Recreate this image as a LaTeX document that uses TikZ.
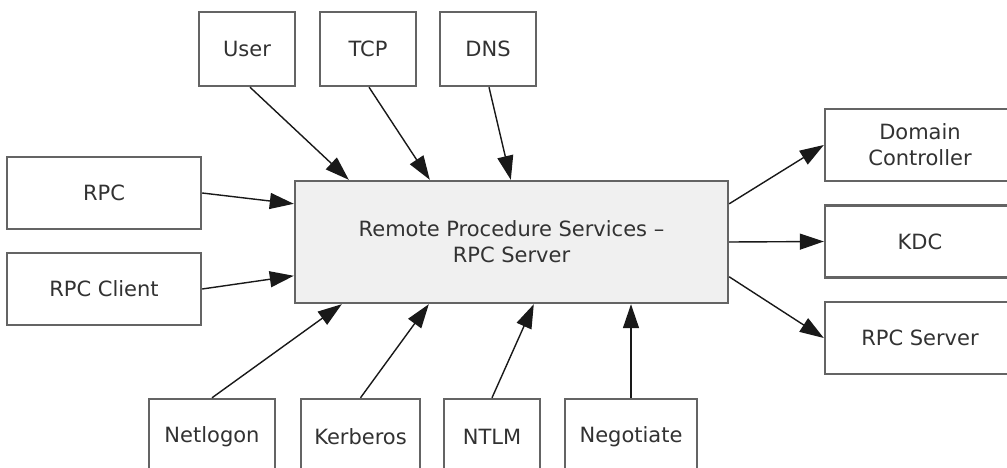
\documentclass[tikz,border=0pt]{standalone}
\usepackage{fontspec}
\setmainfont{DejaVu Sans}
\usetikzlibrary{arrows.meta,calc}
\definecolor{boxline}{RGB}{100,100,100}
\definecolor{txt}{RGB}{50,50,50}
\definecolor{cfill}{RGB}{240,240,240}
\begin{document}
\begin{tikzpicture}[x=1pt,y=-1pt,
  blk/.style={draw=boxline, line width=2.4pt, fill=white, text=txt,
    font=\fontsize{21}{26}\selectfont, align=center, inner sep=0pt},
  arr/.style={-{Triangle[length=24pt,width=16pt]}, line width=1.4pt, draw=black!90, fill=black!90}]
\useasboundingbox (0,0) rectangle (1007,468);
% top
\node[blk, minimum width=96pt, minimum height=74pt] (user) at (247,49) {User};
\node[blk, minimum width=96pt, minimum height=74pt] (tcp) at (368,49) {TCP};
\node[blk, minimum width=96pt, minimum height=74pt] (dns) at (488,49) {DNS};
% left
\node[blk, minimum width=194pt, minimum height=72pt] (rpc) at (104,193) {RPC};
\node[blk, minimum width=194pt, minimum height=72pt] (rpcc) at (104,289) {RPC Client};
% center
\node[blk, fill=cfill, minimum width=433pt, minimum height=122pt] (center) at (511.5,242)
  {Remote Procedure Services –\\RPC Server};
% right
\node[blk, minimum width=190pt, minimum height=72pt] (dc) at (920,145) {Domain\\Controller};
\node[blk, minimum width=190pt, minimum height=72pt] (kdc) at (920,241.5) {KDC};
\node[blk, minimum width=190pt, minimum height=72pt] (rpcs) at (920,338) {RPC Server};
% bottom
\node[blk, minimum width=126pt, minimum height=76pt] (netlogon) at (212,437) {Netlogon};
\node[blk, minimum width=119pt, minimum height=76pt] (kerberos) at (360.5,437) {Kerberos};
\node[blk, minimum width=96pt, minimum height=76pt] (ntlm) at (492,437) {NTLM};
\node[blk, minimum width=132pt, minimum height=76pt] (negotiate) at (631,437) {Negotiate};
% arrows
\draw[arr] ([xshift=3pt]user.south) -- ($(center.north west)+(55,0)$);
\draw[arr] ([xshift=1pt]tcp.south) -- ($(center.north west)+(136,0)$);
\draw[arr] ([xshift=1pt]dns.south) -- ($(center.north west)+(217,0)$);
\draw[arr] (rpc.east) -- ($(center.north west)+(0,24)$);
\draw[arr] (rpcc.east) -- ($(center.north west)+(0,96)$);
\draw[arr] ($(center.north east)+(0,24)$) -- (dc.west);
\draw[arr] (center.east) -- (kdc.west);
\draw[arr] ($(center.north east)+(0,97)$) -- (rpcs.west);
\draw[arr] (netlogon.north) -- ($(center.south west)+(48,0)$);
\draw[arr] (kerberos.north) -- ($(center.south west)+(135,0)$);
\draw[arr] (ntlm.north) -- ($(center.south west)+(240,0)$);
\draw[arr] (negotiate.north) -- (negotiate.north |- center.south);
\end{tikzpicture}
\end{document}
